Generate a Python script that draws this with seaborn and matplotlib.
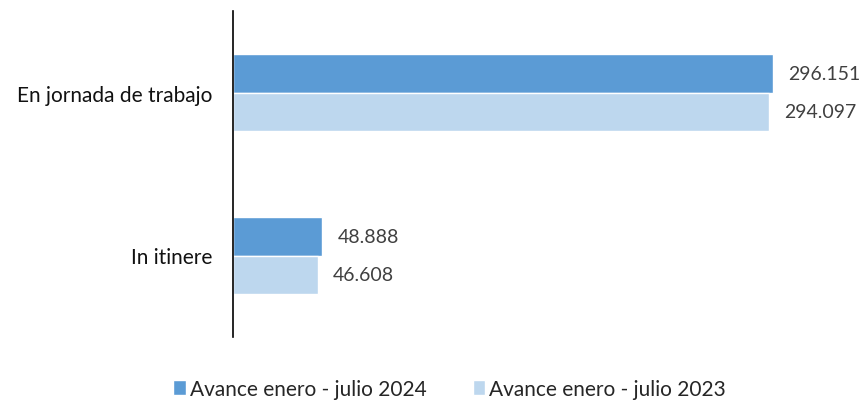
import pandas as pd
import matplotlib
matplotlib.use("Agg")
import matplotlib.pyplot as plt
import seaborn as sns

categories = ["En jornada de trabajo", "In itinere"]
series = ["Avance enero - julio 2024", "Avance enero - julio 2023"]
values_2024 = [296151, 48888]
values_2023 = [294097, 46608]
value_labels_2024 = ["296.151", "48.888"]
value_labels_2023 = ["294.097", "46.608"]
colors = ["#5B9BD5", "#BDD7EE"]

df = pd.DataFrame({
    "categoria": categories * 2,
    "serie": [series[0]] * 2 + [series[1]] * 2,
    "valor": values_2024 + values_2023,
})

sns.set_style("white")
plt.rcParams["font.family"] = ["Lato", "DejaVu Sans"]

fig = plt.figure(figsize=(8.65, 4.06), dpi=100)
ax = fig.add_axes([233 / 865, (406 - 338) / 406, 600 / 865, 326 / 406])

sns.barplot(data=df, y="categoria", x="valor", hue="serie", order=categories,
            hue_order=series, palette=colors, width=0.47, orient="h",
            saturation=1, ax=ax, legend=True)

# value labels
for cont, labs in zip(ax.containers, [value_labels_2024, value_labels_2023]):
    ax.bar_label(cont, labels=labs, padding=11, fontsize=14, color="#404040")

ax.set_xlim(0, 296151 * 600 / 540)
ax.set_ylim(1.5, -0.5)
ax.set_xlabel("")
ax.set_ylabel("")
ax.set_xticks([])
ax.tick_params(axis="y", length=0, labelsize=15, pad=15, labelcolor="#111111")
for s in ["top", "right", "bottom"]:
    ax.spines[s].set_visible(False)
ax.spines["left"].set_color("black")
ax.spines["left"].set_linewidth(1.2)

handles, labels = ax.get_legend_handles_labels()
ax.legend(handles, labels, loc="center", bbox_to_anchor=(0.52, 0.04),
          ncol=2, frameon=False, fontsize=15, handlelength=0.6, handleheight=0.7,
          handletextpad=0.2, columnspacing=2.2, bbox_transform=fig.transFigure)

fig.savefig("out.png", dpi=100)
